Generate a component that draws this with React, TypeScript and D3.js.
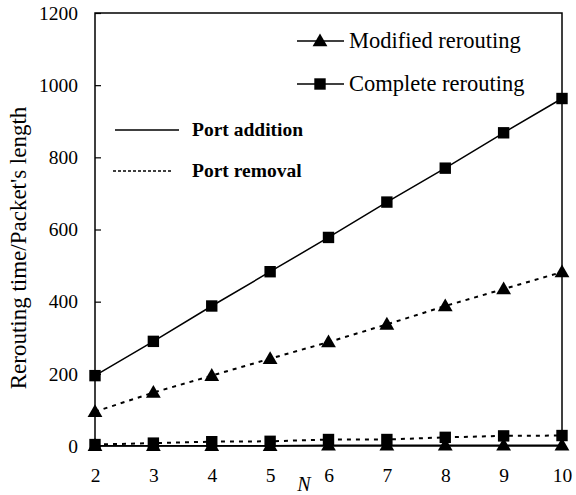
import React, { useEffect, useRef } from "react";
import * as d3 from "d3";

// Number of ports N
const nValues = [2, 3, 4, 5, 6, 7, 8, 9, 10];

// Rerouting time / packet's length
const completeAddition = [195, 290, 388, 483, 578, 676, 770, 868, 963];
const completeRemoval = [4, 8, 12, 13, 18, 18, 24, 28, 29];
const modifiedAddition = [1, 1, 1, 1, 2, 2, 2, 2, 2];
const modifiedRemoval = [95, 148, 195, 242, 288, 337, 388, 435, 482];

const yTicks = [0, 200, 400, 600, 800, 1000, 1200];

const W = 576;
const H = 495;
const M = { left: 95, right: 562, top: 13, bottom: 446 };
const FONT = "Liberation Serif";
const DASH = "4,5";

export default function App() {
  const ref = useRef<SVGSVGElement | null>(null);

  useEffect(() => {
    const svg = d3.select(ref.current);
    svg.selectAll("*").remove();

    const x = d3.scaleLinear().domain([2, 10]).range([M.left, M.right]);
    const y = d3.scaleLinear().domain([0, 1200]).range([M.bottom, M.top]);

    const g = svg.append("g").style("font-family", FONT);

    // Frame
    g.append("rect")
      .attr("x", M.left)
      .attr("y", M.top)
      .attr("width", M.right - M.left)
      .attr("height", M.bottom - M.top)
      .attr("fill", "none")
      .attr("stroke", "#000")
      .attr("stroke-width", 1.5);

    // Y axis ticks (inward) and labels
    const yAxis = d3
      .axisLeft(y)
      .tickValues(yTicks)
      .tickSize(-6)
      .tickPadding(17)
      .tickFormat((d) => String(d));
    const ya = g
      .append("g")
      .attr("transform", `translate(${M.left},0)`)
      .call(yAxis);
    ya.attr("font-family", null).style("font-family", FONT);
    ya.select(".domain").remove();
    ya.selectAll("line").attr("stroke", "#000").attr("stroke-width", 1.2);
    ya.selectAll("text")
      .style("font-family", FONT)
      .attr("font-size", 19.5)
      .attr("fill", "#000");

    // X axis labels
    const xAxis = d3
      .axisBottom(x)
      .tickValues(nValues)
      .tickSize(0)
      .tickPadding(22)
      .tickFormat((d) => String(d));
    const xa = g
      .append("g")
      .attr("transform", `translate(0,${M.bottom})`)
      .call(xAxis);
    xa.attr("font-family", null).style("font-family", FONT);
    xa.select(".domain").remove();
    xa.selectAll("text")
      .style("font-family", FONT)
      .attr("font-size", 19.5)
      .attr("fill", "#000");

    // Axis titles
    g.append("text")
      .attr("x", 304)
      .attr("y", 491)
      .attr("text-anchor", "middle")
      .style("font-family", FONT)
      .attr("font-style", "italic")
      .attr("font-size", 20)
      .text("N");

    g.append("text")
      .attr("transform", `translate(26,248) rotate(-90)`)
      .attr("text-anchor", "middle")
      .style("font-family", FONT)
      .attr("font-size", 23)
      .text("Rerouting time/Packet's length");

    const line = d3
      .line<[number, number]>()
      .x((d) => x(d[0]))
      .y((d) => y(d[1]));

    const tri = d3.symbol().type(d3.symbolTriangle).size(95);
    const sq = d3.symbol().type(d3.symbolSquare).size(130);

    type Series = { values: number[]; dashed: boolean; marker: "tri" | "sq" };
    const series: Series[] = [
      { values: modifiedAddition, dashed: false, marker: "tri" },
      { values: completeRemoval, dashed: true, marker: "sq" },
      { values: modifiedRemoval, dashed: true, marker: "tri" },
      { values: completeAddition, dashed: false, marker: "sq" },
    ];

    series.forEach((s) => {
      const pts = nValues.map((n, i) => [n, s.values[i]] as [number, number]);
      g.append("path")
        .attr("d", line(pts))
        .attr("fill", "none")
        .attr("stroke", "#000")
        .attr("stroke-width", s.dashed ? 2 : 1.5)
        .attr("stroke-dasharray", s.dashed ? DASH : null);
      g.selectAll(null)
        .data(pts)
        .enter()
        .append("path")
        .attr("d", s.marker === "tri" ? tri() : sq())
        .attr("transform", (d) => `translate(${x(d[0])},${y(d[1]) + (s.marker === "tri" ? 1 : 0)})`)
        .attr("fill", "#000");
    });

    // Marker legend
    const legend1 = [
      { label: "Modified rerouting", marker: "tri", y: 41 },
      { label: "Complete rerouting", marker: "sq", y: 84 },
    ];
    legend1.forEach((l) => {
      g.append("line")
        .attr("x1", 297)
        .attr("x2", 344)
        .attr("y1", l.y)
        .attr("y2", l.y)
        .attr("stroke", "#000")
        .attr("stroke-width", 1.5);
      g.append("path")
        .attr("d", l.marker === "tri" ? tri() : sq())
        .attr("transform", `translate(320,${l.y + (l.marker === "tri" ? 1 : 0)})`)
        .attr("fill", "#000");
      g.append("text")
        .attr("x", 349)
        .attr("y", l.y + 7)
        .style("font-family", FONT)
        .attr("font-size", 22.5)
        .text(l.label);
    });

    // Line style legend
    const legend2 = [
      { label: "Port addition", dashed: false, y: 130 },
      { label: "Port removal", dashed: true, y: 171 },
    ];
    legend2.forEach((l) => {
      g.append("line")
        .attr("x1", l.dashed ? 113 : 115)
        .attr("x2", l.dashed ? 173 : 179)
        .attr("y1", l.y)
        .attr("y2", l.y)
        .attr("stroke", "#000")
        .attr("stroke-width", 1.3)
        .attr("stroke-dasharray", l.dashed ? "3,2" : null);
      g.append("text")
        .attr("x", 192)
        .attr("y", l.y + 6)
        .style("font-family", FONT)
        .attr("font-weight", "bold")
        .attr("font-size", 19.5)
        .text(l.label);
    });
  }, []);

  return (
    <svg
      ref={ref}
      width={W}
      height={H}
      style={{ position: "absolute", left: 0, top: 0, background: "#fff" }}
    />
  );
}
